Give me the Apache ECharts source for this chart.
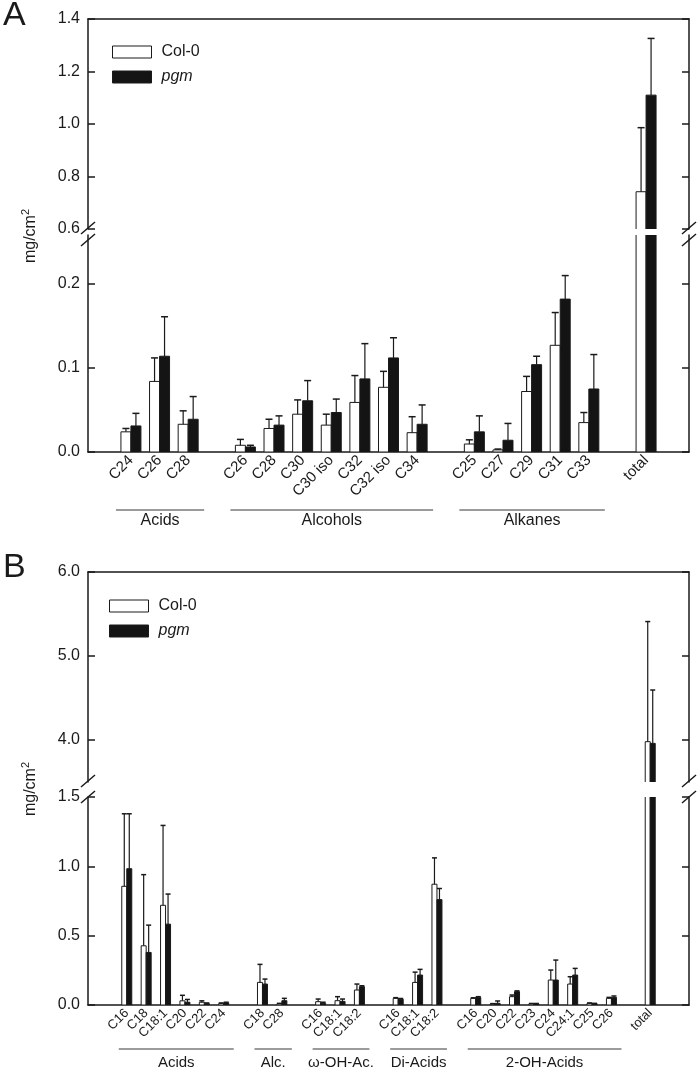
<!DOCTYPE html>
<html><head><meta charset="utf-8">
<script src="https://cdn.jsdelivr.net/npm/echarts@6/dist/echarts.min.js"></script>
<style>html,body{margin:0;padding:0;background:#fff}#c{width:700px;height:1082px}</style>
</head><body><div id="c"></div>
<script>
// ---------- Panel A (waxes) ----------
const catsA = ['', 'C24','C26','C28', '', 'C26','C28','C30','C30 iso','C32','C32 iso','C34', '', 'C25','C27','C29','C31','C33', '', 'total', ''];
const colA    = ['-', 0.024,0.084,0.033, '-', 0.008,0.028,0.045,0.032,0.059,0.077,0.023, '-', 0.0095,0.0025,0.072,0.127,0.035, '-', 0.742, '-'];
const colAErr = ['-', 0.004,0.028,0.016, '-', 0.007,0.011,0.017,0.013,0.032,0.019,0.019, '-', 0.005,0.001,0.018,0.039,0.012, '-', 0.244, '-'];
const pgmA    = ['-', 0.031,0.114,0.039, '-', 0.006,0.032,0.061,0.047,0.087,0.112,0.033, '-', 0.024,0.014,0.104,0.182,0.075, '-', 1.110, '-'];
const pgmAErr = ['-', 0.015,0.047,0.027, '-', 0.002,0.011,0.024,0.016,0.042,0.024,0.023, '-', 0.019,0.020,0.010,0.028,0.041, '-', 0.216, '-'];
const groupsA = [['Acids',1,3],['Alcohols',5,11],['Alkanes',13,17]];
const ticksAUp = [0.6,0.8,1.0,1.2,1.4];
const ticksALo = [0,0.1,0.2];

// ---------- Panel B (cutin) ----------
const catsB = ['', '', 'C16','C18','C18:1','C20','C22','C24', '', 'C18','C28', '', 'C16','C18:1','C18:2', '', 'C16','C18:1','C18:2', '', 'C16','C20','C22','C23','C24','C24:1','C25','C26', '', 'total', '', ''];
const colB    = ['-','-', 0.856,0.427,0.719,0.030,0.020,0.010, '-', 0.163,0.008, '-', 0.024,0.031,0.108, '-', 0.048,0.163,0.871, '-', 0.048,0.006,0.060,0.008,0.180,0.151,0.012,0.048, '-', 3.98, '-','-'];
const colBErr = ['-','-', 0.523,0.513,0.576,0.040,0.010,0.005, '-', 0.130,0.004, '-', 0.019,0.029,0.043, '-', 0.005,0.074,0.190, '-', 0.004,0.004,0.012,0.003,0.072,0.053,0.003,0.007, '-', 1.43, '-','-'];
const pgmB    = ['-','-', 0.983,0.379,0.583,0.020,0.010,0.015, '-', 0.151,0.031, '-', 0.012,0.026,0.132, '-', 0.042,0.216,0.760, '-', 0.055,0.012,0.096,0.008,0.180,0.216,0.010,0.055, '-', 3.96, '-','-'];
const pgmBErr = ['-','-', 0.396,0.197,0.217,0.020,0.005,0.005, '-', 0.036,0.017, '-', 0.008,0.017,0.007, '-', 0.005,0.041,0.080, '-', 0.005,0.017,0.006,0.003,0.144,0.048,0.002,0.010, '-', 0.635, '-','-'];
const groupsB = [['Acids',2,7],['Alc.',9,10],['ω-OH-Ac.',12,14],['Di-Acids',16,18],['2-OH-Acids',20,27]];
const ticksBUp = [4,5,6];
const ticksBLo = [0,0.5,1.0,1.5];

const FONT = "'Liberation Sans', Arial, Helvetica, sans-serif";
const INK = '#1a1a1a';
const WHITE = '#ffffff', BLACK = '#141414';
const chart = echarts.init(document.getElementById('c'), null, {renderer:'canvas'});

const L = 88, W = 601;
const grids = [
  {left:L, width:W, top:19,  height:210},
  {left:L, width:W, top:235, height:217},
  {left:L, width:W, top:572, height:210},
  {left:L, width:W, top:797, height:208}
];
function xAx(gi, data, pos, labels, fs, bgap){
  return {type:'category', gridIndex:gi, data:data, position:pos, boundaryGap:bgap,
    axisLine:{show:true, onZero:false, lineStyle:{color:INK, width:1.5}},
    axisTick:{show:false},
    axisLabel:{show:labels, interval:0, rotate:45, fontSize:fs, color:INK, fontFamily:FONT, margin:6},
    splitLine:{show:false}};
}
function yAx(gi, min, max, ticks, side){
  const isLeft = side === 'left';
  return {type:'value', gridIndex:gi, position:side, min:min, max:max,
    axisLine:{show:true, onZero:false, lineStyle:{color:INK, width:1.5}},
    axisTick:{show:true, inside:true, length:7, customValues:ticks, lineStyle:{color:INK, width:1.5}},
    axisLabel:{show:isLeft, customValues:ticks, formatter:function(v){return Number(v).toFixed(1);}, fontSize:16, color:INK, fontFamily:FONT, margin:8},
    splitLine:{show:false}};
}
const xAxes = [
  xAx(0, catsA, 'top', false, 15, true),
  xAx(1, catsA, 'bottom', true, 15, true),
  xAx(2, catsB, 'top', false, 13, false),
  xAx(3, catsB, 'bottom', true, 13, false)
];
const yAxes = [
  yAx(0, 0.6, 1.4, ticksAUp, 'left'), yAx(0, 0.6, 1.4, ticksAUp, 'right'),
  yAx(1, 0, 0.2583, ticksALo, 'left'), yAx(1, 0, 0.2583, ticksALo, 'right'),
  yAx(2, 3.5, 6.0, ticksBUp, 'left'), yAx(2, 3.5, 6.0, ticksBUp, 'right'),
  yAx(3, 0, 1.5, ticksBLo, 'left'), yAx(3, 0, 1.5, ticksBLo, 'right')
];

function toData(vals, errs){
  const d = [];
  vals.forEach(function(v, i){ if (v !== '-') d.push([i, v, errs[i]]); });
  return d;
}
// bars as clipped rectangles (clip path cuts them cleanly at the axis break)
function barS(name, gi, vals, errs, sign, fill){
  const bw = gi < 2 ? 10 : 5;
  return {name:name, type:'custom', xAxisIndex:gi, yAxisIndex:gi*2, clip:true, silent:true, z:2,
    data:toData(vals, errs), encode:{x:0, y:1},
    itemStyle:{color:fill, borderColor:INK, borderWidth:1},
    renderItem:function(p, api){
      const i = api.value(0), v = api.value(1);
      const b = api.coord([i, 0]), t = api.coord([i, v]);
      const x = sign < 0 ? b[0] - bw : b[0];
      return {type:'rect', shape:{x:x, y:t[1], width:bw, height:b[1] - t[1]},
        style:{fill:fill, stroke:INK, lineWidth:1}};
    }};
}
function errS(name, gi, vals, errs, sign){
  const bw = gi < 2 ? 10 : 5, cap = gi < 2 ? 7 : 5;
  return {name:name, type:'custom', xAxisIndex:gi, yAxisIndex:gi*2, clip:true, silent:true, z:3,
    data:toData(vals, errs), encode:{x:0, y:1},
    renderItem:function(p, api){
      const i = api.value(0), v = api.value(1), e = api.value(2);
      const b = api.coord([i, v]), t = api.coord([i, v + e]);
      const x = b[0] + sign * bw / 2;
      return {type:'group', children:[
        {type:'line', shape:{x1:x, y1:b[1], x2:x, y2:t[1]}, style:{stroke:INK, lineWidth:1.2}},
        {type:'line', shape:{x1:x - cap/2, y1:t[1], x2:x + cap/2, y2:t[1]}, style:{stroke:INK, lineWidth:1.5}}
      ]};
    }};
}
const series = [];
[[0,colA,colAErr,pgmA,pgmAErr],[1,colA,colAErr,pgmA,pgmAErr],[2,colB,colBErr,pgmB,pgmBErr],[3,colB,colBErr,pgmB,pgmBErr]].forEach(function(s){
  series.push(barS('Col-0', s[0], s[1], s[2], -1, WHITE));
  series.push(barS('pgm', s[0], s[3], s[4], 1, BLACK));
  series.push(errS('Col-0 SD', s[0], s[1], s[2], -1));
  series.push(errS('pgm SD', s[0], s[3], s[4], 1));
});

function legendAt(left, top){
  return {left:left, top:top, orient:'vertical', itemWidth:39, itemHeight:12, itemGap:9, icon:'rect',
    selectedMode:false,
    data:[{name:'Col-0', itemStyle:{color:WHITE, borderColor:INK, borderWidth:1}},
          {name:'pgm', itemStyle:{color:BLACK, borderColor:INK, borderWidth:1}, textStyle:{fontStyle:'italic'}}],
    textStyle:{fontSize:16, color:INK, fontFamily:FONT, padding:[0,0,0,5]}};
}

chart.setOption({
  animation:false,
  backgroundColor:'#ffffff',
  grid:grids, xAxis:xAxes, yAxis:yAxes, series:series,
  legend:[legendAt(107, 39), legendAt(104, 593)]
});

// ---------- decorations: labels, break marks, group brackets ----------
const g = [];
function txt(x, y, text, fs, extra){
  return {type:'text', x:x, y:y, silent:true, z:10,
    style:Object.assign({text:text, fontSize:fs, fontFamily:FONT, fill:INK, align:'center', verticalAlign:'middle'}, extra || {})};
}
g.push(txt(3, -1, 'A', 34, {align:'left', verticalAlign:'top'}));
g.push(txt(3, 551, 'B', 34, {align:'left', verticalAlign:'top'}));
function ytitle(y){
  return {type:'text', x:31, y:y, rotation:Math.PI/2, silent:true, z:10,
    style:{text:'{a|mg/cm}{b|2}', align:'center', verticalAlign:'middle', fill:INK,
      rich:{a:{fontSize:16, fontFamily:FONT, fill:INK, lineHeight:22}, b:{fontSize:11, fontFamily:FONT, fill:INK, verticalAlign:'top'}}}};
}
g.push(ytitle(236));
g.push(ytitle(789));
function slash(cx, cy){
  return {type:'line', silent:true, z:10, shape:{x1:cx-7, y1:cy+6, x2:cx+7, y2:cy-6}, style:{stroke:INK, lineWidth:1.5}};
}
[[228,240],[781,797]].forEach(function(p){
  [L, L+W].forEach(function(x){ g.push(slash(x, p[0])); g.push(slash(x, p[1])); });
});
function brackets(groups, axisIdx, lineY, textY, fs, extL, extR){
  groups.forEach(function(gr){
    const x1 = chart.convertToPixel({xAxisIndex:axisIdx}, gr[1]) - extL;
    const x2 = chart.convertToPixel({xAxisIndex:axisIdx}, gr[2]) + extR;
    g.push({type:'line', silent:true, shape:{x1:x1, y1:lineY, x2:x2, y2:lineY}, style:{stroke:'#7a7a7a', lineWidth:1.5}});
    g.push(txt((x1 + x2) / 2, textY, gr[0], fs));
  });
}
brackets(groupsA, 1, 510, 521, 16, 15, 16);
brackets(groupsB, 3, 1049, 1063, 15, 8, 10);
chart.setOption({graphic:g});
</script>
</body></html>
